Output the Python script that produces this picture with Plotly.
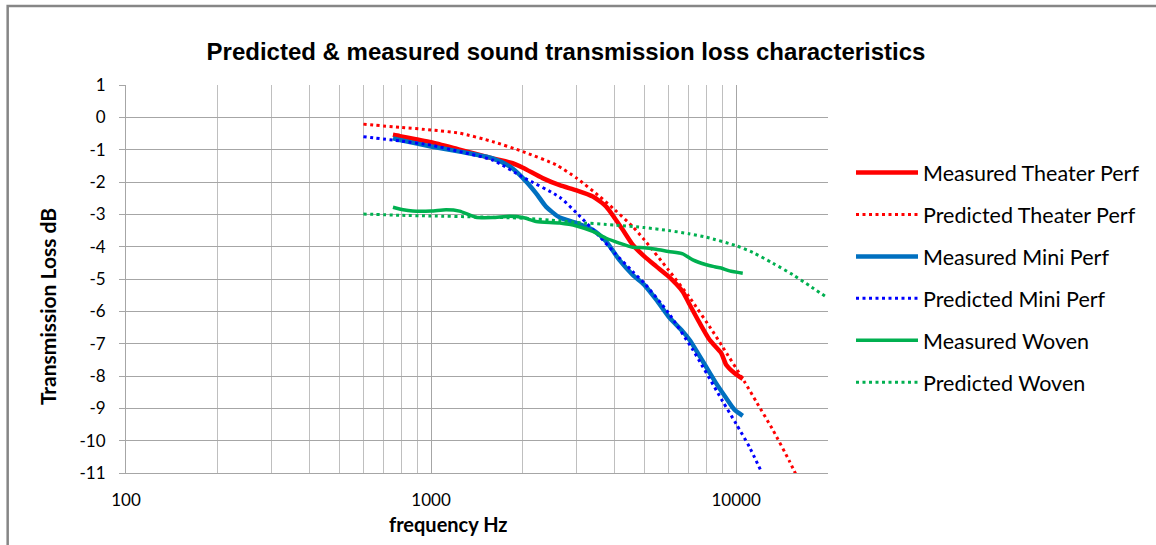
import plotly.graph_objects as go
import math

# ---------------- data ----------------
mt_freq = [750, 790, 890, 1000, 1240, 1590, 1850, 2000, 2320, 2640, 3000, 3390, 3750, 4000,
           4250, 4580, 5000, 5470, 6000, 6680, 7000, 7590, 8180, 8930, 9270, 9870, 10510]
mt_val = [-0.54, -0.58, -0.68, -0.77, -1.00, -1.27, -1.42, -1.56, -1.88, -2.10, -2.26, -2.45, -2.76, -3.12,
          -3.48, -3.94, -4.30, -4.61, -4.92, -5.39, -5.75, -6.36, -6.88, -7.29, -7.65, -7.91, -8.09]

pt_freq = [600, 790, 1000, 1240, 1590, 2000, 2570, 3000, 3570, 4000, 4580, 5000, 6000, 7000,
           8380, 9000, 10640, 11630, 13180, 14960, 15800]
pt_val = [-0.21, -0.31, -0.39, -0.49, -0.75, -1.06, -1.47, -1.88, -2.45, -2.86, -3.38, -3.79, -4.72, -5.54,
          -6.62, -7.08, -8.17, -8.79, -9.66, -10.64, -11.10]

mm_freq = [750, 790, 1000, 1240, 1590, 1810, 2000, 2210, 2380, 2640, 3000, 3390, 3750, 4140,
           4580, 5000, 5470, 6000, 6680, 7030, 7780, 8590, 9270, 9870, 10510]
mm_val = [-0.65, -0.70, -0.90, -1.06, -1.27, -1.52, -1.88, -2.35, -2.76, -3.10, -3.27, -3.48, -3.84, -4.41,
          -4.87, -5.18, -5.64, -6.16, -6.62, -6.88, -7.55, -8.22, -8.68, -9.04, -9.23]

pm_freq = [600, 790, 1000, 1240, 1590, 2000, 2640, 3000, 3570, 4000, 4580, 5000, 6000, 7210,
           9040, 10000, 11060, 12080]
pm_val = [-0.60, -0.73, -0.86, -1.06, -1.32, -1.85, -2.47, -2.96, -3.69, -4.20, -4.77, -5.13, -6.05, -7.19,
          -8.79, -9.48, -10.20, -10.95]

mw_freq = [750, 810, 870, 1000, 1120, 1240, 1400, 1590, 1810, 2000, 2210, 2640, 3000, 3390,
           3750, 4140, 4580, 5000, 5470, 6000, 6680, 7210, 7980, 8500, 8930, 9510, 10510]
mw_val = [-2.78, -2.86, -2.90, -2.90, -2.86, -2.90, -3.09, -3.10, -3.06, -3.10, -3.22, -3.27, -3.36, -3.53,
          -3.74, -3.89, -4.02, -4.03, -4.08, -4.15, -4.22, -4.41, -4.56, -4.62, -4.66, -4.75, -4.82]

pw_freq = [600, 790, 1000, 1400, 2000, 2640, 3000, 4000, 5000, 6000, 7000, 8000, 10000, 11350,
           13180, 15350, 17400, 19630]
pw_val = [-2.99, -3.03, -3.05, -3.08, -3.12, -3.20, -3.25, -3.33, -3.41, -3.50, -3.60, -3.71, -3.97, -4.18,
          -4.51, -4.87, -5.21, -5.54]

x_tick_vals = [100, 1000, 10000]
x_tick_text = ["100", "1000", "10000"]
x_minor_vals = [200, 300, 400, 500, 600, 700, 800, 900,
                2000, 3000, 4000, 5000, 6000, 7000, 8000, 9000, 20000]
y_tick_vals = list(range(1, -12, -1))
y_tick_text = [str(v) for v in y_tick_vals]

title_text = "Predicted & measured sound transmission loss characteristics"
x_title = "frequency Hz"
y_title = "Transmission Loss dB"

# ---------------- figure ----------------
DOT = "3px,3.5px"
series = [
    ("Measured Theater Perf", mt_freq, mt_val, "#FF0000", 4.5, "solid"),
    ("Predicted Theater Perf", pt_freq, pt_val, "#FF0000", 3, DOT),
    ("Measured Mini Perf", mm_freq, mm_val, "#0070C0", 4.5, "solid"),
    ("Predicted Mini Perf", pm_freq, pm_val, "#0000FF", 3, DOT),
    ("Measured Woven", mw_freq, mw_val, "#00B050", 3.5, "solid"),
    ("Predicted Woven", pw_freq, pw_val, "#00B050", 3, DOT),
]

fig = go.Figure()
for name, xs, ys, col, w, dash in series:
    fig.add_trace(go.Scatter(
        x=xs, y=ys, name=name, mode="lines", legendgroup=name,
        line=dict(color=col, width=w, dash=dash, shape="spline", smoothing=0.6),
        cliponaxis=True,
    ))

W, H = 1156, 545
L, R, T, B = 126, 327, 85, 72
pw = W - L - R
ph = H - T - B

def px_x(px):
    return (px - L) / pw

def px_y(py):
    return (H - B - py) / ph

grid = "#A6A6A6"
fig.update_layout(
    width=W, height=H,
    margin=dict(l=L, r=R, t=T, b=B, pad=0),
    paper_bgcolor="white", plot_bgcolor="white",
    font=dict(family="Lato", color="#000000"),
    title=dict(text=title_text, x=566 / W, xanchor="center", xref="container",
               y=1 - 52 / H, yanchor="middle", yref="container",
               font=dict(family="Liberation Sans", size=24, weight="bold", color="#000000")),
    showlegend=True,
    legend=dict(x=px_x(851), xanchor="left", y=px_y(152), yanchor="top",
                font=dict(family="Lato", size=21.5, color="#000000"),
                traceorder="grouped", tracegroupgap=11, itemwidth=62,
                bgcolor="rgba(0,0,0,0)", borderwidth=0),
    xaxis=dict(type="log", range=[2, math.log10(20000)],
               tickmode="array", tickvals=x_tick_vals, ticktext=x_tick_text,
               ticks="", showgrid=True, gridcolor=grid, gridwidth=1,
               minor=dict(tickmode="array", tickvals=x_minor_vals, showgrid=True,
                          gridcolor="#BFBFBF", gridwidth=1, ticks=""),
               showline=True, linecolor=grid, linewidth=1, mirror=False,
               tickfont=dict(family="Lato", size=17, color="#000000"),
               ticklabelstandoff=12, fixedrange=True),
    yaxis=dict(range=[-11, 1], tickmode="array", tickvals=y_tick_vals, ticktext=y_tick_text,
               ticks="outside", ticklen=6, tickcolor=grid, tickwidth=1,
               showgrid=True, gridcolor=grid, gridwidth=1, zeroline=False,
               showline=True, linecolor=grid, linewidth=1,
               tickfont=dict(family="Lato", size=17, color="#000000"),
               ticklabelstandoff=10, fixedrange=True),
    annotations=[
        dict(text=y_title, xref="paper", yref="paper", x=px_x(47), y=px_y(307),
             xanchor="center", yanchor="middle", textangle=-90, showarrow=False,
             font=dict(family="Lato", size=21, weight="bold", color="#000000")),
        dict(text=x_title, xref="paper", yref="paper", x=px_x(449), y=px_y(524),
             xanchor="center", yanchor="middle", showarrow=False,
             font=dict(family="Lato", size=20, weight="bold", color="#000000")),
    ],
    shapes=[
        dict(type="rect", xref="paper", yref="paper",
             x0=px_x(7.5), y0=px_y(900), x1=px_x(2000), y1=px_y(6),
             line=dict(color="#868686", width=2.5), fillcolor="rgba(0,0,0,0)", layer="below"),
    ],
)

fig.write_html("out.html", config={"displayModeBar": False},
               post_script="document.body.style.margin='0px';document.body.style.overflow='hidden';")
